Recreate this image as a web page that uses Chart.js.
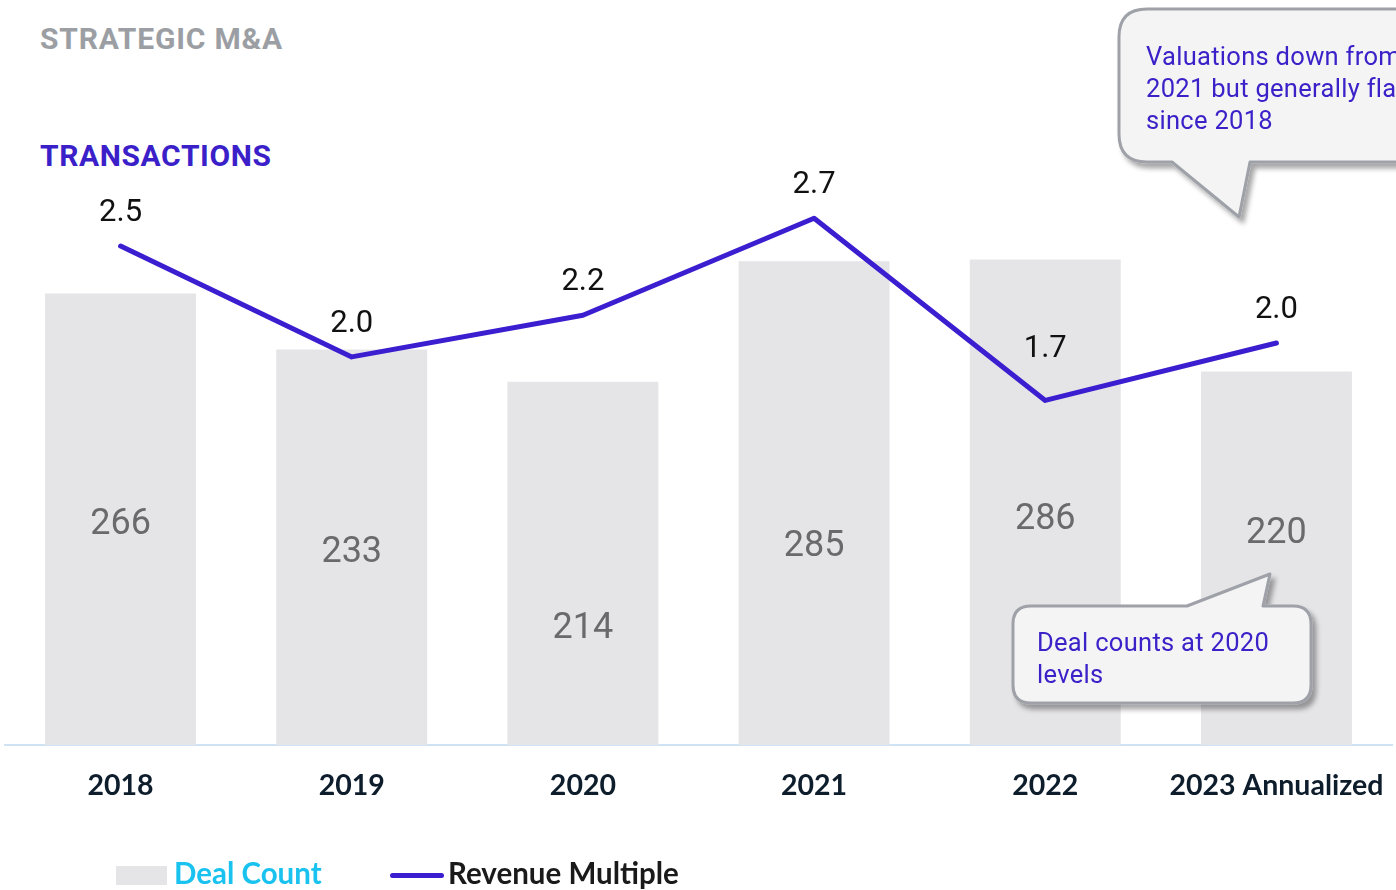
<!DOCTYPE html>
<html lang="en">
<head>
  <meta charset="UTF-8">
  <title>Strategic M&amp;A - Transactions</title>
  <script src="https://cdn.jsdelivr.net/npm/chart.js"></script>
  <style>
    body {
      margin: 0;
      background: #fff;
      width: 1396px;
      height: 890px;
      overflow: hidden;
      position: relative;
      font-family: Roboto, sans-serif;
    }
    .kicker {
      position: absolute;
      left: 40px;
      top: 21px;
      font: 700 30px Roboto, sans-serif;
      letter-spacing: 0.8px;
      color: #9b9ea3;
      white-space: nowrap;
    }
    .heading {
      position: absolute;
      left: 40px;
      top: 138px;
      font: 700 30px Roboto, sans-serif;
      letter-spacing: 0.6px;
      color: #3b1fc9;
      white-space: nowrap;
    }
    #wrap {
      position: absolute;
      left: 0;
      top: 0;
    }
    svg.callouts {
      position: absolute;
      left: 0;
      top: 0;
      pointer-events: none;
    }
    .note {
      position: absolute;
      font: 400 25.5px Roboto, sans-serif;
      letter-spacing: 0.3px;
      line-height: 32px;
      color: #3b22c8;
      white-space: nowrap;
    }
    .legend {
      position: absolute;
      top: 855px;
      font: 700 29.5px Lato, sans-serif;
      white-space: nowrap;
    }
    .swatch-bar {
      position: absolute;
      left: 116px;
      top: 866px;
      width: 51px;
      height: 19px;
      background: #e5e5e8;
    }
    .swatch-line {
      position: absolute;
      left: 390px;
      top: 873px;
      width: 54px;
      height: 5px;
      border-radius: 3px;
      background: #3a1ed0;
    }
  </style>
</head>
<body>
  <div class="kicker">STRATEGIC M&amp;A</div>
  <div class="heading">TRANSACTIONS</div>

  <div id="wrap"><canvas id="chart" width="1396" height="830"></canvas></div>

  <svg class="callouts" width="1396" height="890">
    <defs>
      <filter id="shadow" x="-10%" y="-10%" width="130%" height="140%">
        <feDropShadow dx="4" dy="5" stdDeviation="2.5" flood-color="#000" flood-opacity="0.35"/>
      </filter>
    </defs>
    <path filter="url(#shadow)" fill="#f4f4f5" stroke="#9ea2a8" stroke-width="3" stroke-linejoin="round"
      d="M1147 9 H1430 V162 H1250 L1239 217 L1172 162 H1147 Q1119 162 1119 134 V37 Q1119 9 1147 9 Z"/>
    <path filter="url(#shadow)" fill="#f4f4f5" stroke="#9ea2a8" stroke-width="3" stroke-linejoin="round"
      d="M1031 606 H1187 L1270 574 L1263 606 H1293 Q1311 606 1311 624 V685 Q1311 703 1293 703 H1031 Q1013 703 1013 685 V624 Q1013 606 1031 606 Z"/>
  </svg>
  <div class="note" style="left:1146px; top:40px;">Valuations down from<br>2021 but generally flat<br>since 2018</div>
  <div class="note" style="left:1037px; top:626px;">Deal counts at 2020<br>levels</div>

  <div class="swatch-bar"></div>
  <div class="legend" style="left:174px; color:#19c2ef;">Deal Count</div>
  <div class="swatch-line"></div>
  <div class="legend" style="left:448px; color:#1a1a1a;">Revenue Multiple</div>

  <script>
    const years = ["2018", "2019", "2020", "2021", "2022", "2023 Annualized"];
    const dealCount = [266, 233, 214, 285, 286, 220];
    const revenueMultiple = [2.52, 1.96, 2.17, 2.66, 1.74, 2.03];

    // hand-placed label nudges from the original slide (pixels)
    const countLabelShift = [0, 0, 60, 38, 12, -30];
    const multipleLabelShift = [0, 0, 0, 0, -18, 0];

    const valueLabels = {
      id: "valueLabels",
      afterDatasetsDraw(chart) {
        const ctx = chart.ctx;
        ctx.save();
        ctx.textAlign = "center";
        ctx.textBaseline = "middle";

        const bars = chart.getDatasetMeta(1).data;
        ctx.font = "400 36px Roboto";
        ctx.fillStyle = "#6a6a6c";
        bars.forEach((bar, i) => {
          const y = (bar.y + bar.base) / 2 + 6 + countLabelShift[i];
          ctx.fillText(dealCount[i], bar.x, y);
        });

        const points = chart.getDatasetMeta(0).data;
        ctx.font = "400 31px Roboto";
        ctx.fillStyle = "#111";
        points.forEach((pt, i) => {
          ctx.fillText(revenueMultiple[i].toFixed(1), pt.x, pt.y - 33 + multipleLabelShift[i]);
        });
        ctx.restore();
      }
    };

    new Chart(document.getElementById("chart"), {
      data: {
        labels: years,
        datasets: [
          {
            type: "line",
            label: "Revenue Multiple",
            data: revenueMultiple,
            yAxisID: "y1",
            borderColor: "#3a1ed0",
            borderWidth: 5,
            borderCapStyle: "round",
            borderJoinStyle: "round",
            pointRadius: 0,
            tension: 0,
            clip: false
          },
          {
            type: "bar",
            label: "Deal Count",
            data: dealCount,
            yAxisID: "y",
            backgroundColor: "#e5e5e8",
            barPercentage: 0.653,
            categoryPercentage: 1
          }
        ]
      },
      options: {
        responsive: false,
        animation: false,
        layout: { padding: { top: 151, left: 5, right: 4, bottom: 3 } },
        plugins: {
          legend: { display: false },
          tooltip: { enabled: false }
        },
        scales: {
          x: {
            grid: { display: false, drawTicks: false },
            border: { display: true, color: "#cfe3f5", width: 2 },
            ticks: {
              color: "#0e1d2c",
              font: { family: "Lato", size: 28.5, weight: "700", lineHeight: 2.67 },
              padding: 3,
              maxRotation: 0
            }
          },
          y: { display: false, min: 0, max: 350 },
          y1: { display: false, min: 0, max: 3, position: "right" }
        }
      },
      plugins: [valueLabels]
    });
  </script>
</body>
</html>
